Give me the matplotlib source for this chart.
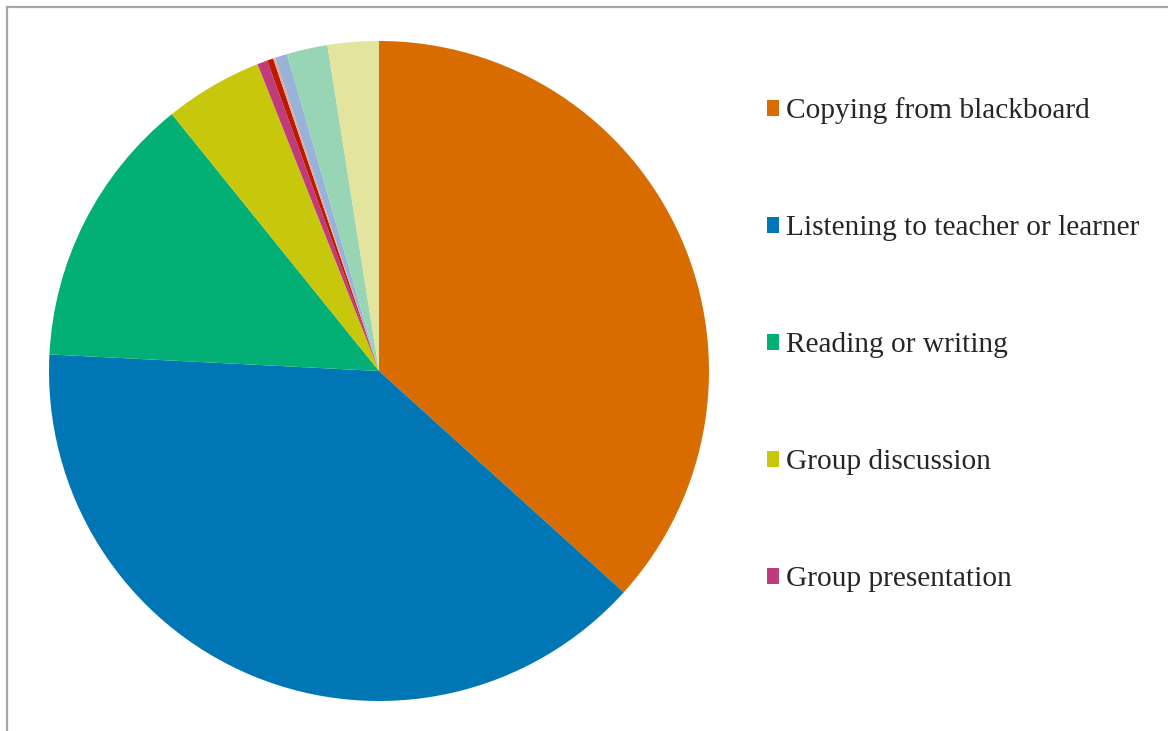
import matplotlib.pyplot as plt
from matplotlib.lines import Line2D

# share of lesson time spent on each activity (%)
activities = [
    "Copying from blackboard",
    "Listening to teacher or learner",
    "Reading or writing",
    "Group discussion",
    "Group presentation",
    "Role play",
    "Demonstration",
    "Question and answer",
    "Practical work",
    "Other",
]
shares = [36.7, 39.1, 13.4, 4.8, 0.5, 0.3, 0.1, 0.6, 2.0, 2.5]
colors = ["#D96C00", "#0077B4", "#02B075", "#C7C80C", "#C13A7A",
          "#BA1A00", "#F2A58E", "#98B2D8", "#97D5B5", "#E3E49D"]
n_legend = 5

fig = plt.figure(figsize=(11.68, 7.31), dpi=100)

# pie: centre (379, 371) px, radius 330 px
W, H = 1168, 731
ax = fig.add_axes([49 / W, 30 / H, 660 / W, 660 / H])
wedges, _ = ax.pie(shares, colors=colors, startangle=90, counterclock=False,
                   radius=1.0, wedgeprops=dict(linewidth=0))
ax.set_xlim(-1, 1)
ax.set_ylim(-1, 1)
ax.set_aspect("equal")
ax.axis("off")

leg = fig.legend(wedges[:n_legend], activities[:n_legend],
                 loc="upper left", bbox_to_anchor=(740 / W, 1 - 71 / H),
                 frameon=False, handlelength=0.44, handleheight=0.44,
                 handletextpad=0.23, labelspacing=3.09,
                 prop=dict(family="Liberation Serif", size=21.2))
for t in leg.get_texts():
    t.set_color("#262626")

# chart area border (top and left edges)
y0 = 1 - 7 / H
x0 = 7 / W
fig.add_artist(Line2D([x0, x0], [0, y0], transform=fig.transFigure,
                      color="#A6A6A6", linewidth=1.6))
fig.add_artist(Line2D([x0, 1], [y0, y0], transform=fig.transFigure,
                      color="#A6A6A6", linewidth=1.6))

fig.savefig("out.png", dpi=100, facecolor="white")
